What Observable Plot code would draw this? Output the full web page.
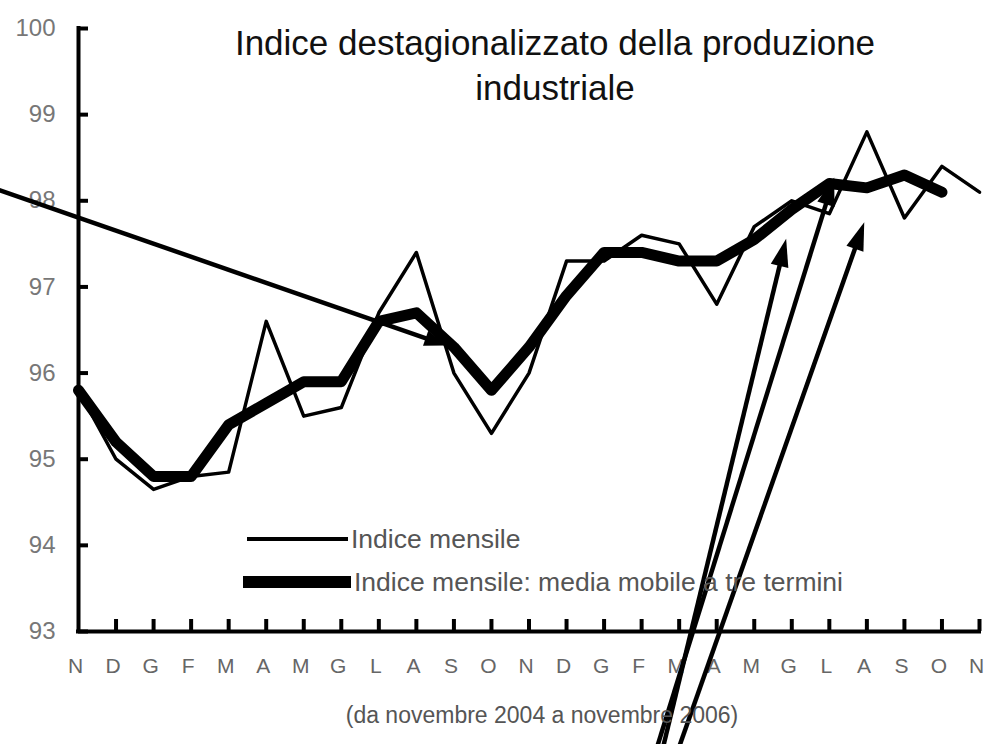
<!DOCTYPE html>
<html>
<head>
<meta charset="utf-8">
<script src="https://cdn.jsdelivr.net/npm/d3@7"></script>
<script src="https://cdn.jsdelivr.net/npm/@observablehq/plot@0.6"></script>
<style>
  body { margin: 0; background: #fff; }
  #wrap { position: relative; width: 984px; height: 744px; overflow: hidden; font-family: "Liberation Sans", Arial, sans-serif; }
  #wrap svg { position: absolute; left: 0; top: 0; }
  #title { position: absolute; left: 205px; width: 700px; top: 20px; text-align: center; font-size: 35px; line-height: 45px; color: #111; }
  .leg { position: absolute; left: 243px; height: 30px; display: flex; align-items: center; font-size: 26.5px; color: #555; white-space: nowrap; }
  .sw { display: inline-block; width: 105px; background: #000; margin-right: 3px; }
  #caption { position: absolute; left: 242px; width: 600px; top: 702px; text-align: center; font-size: 23px; color: #555; white-space: nowrap; }
</style>
</head>
<body>
<div id="wrap">
  <div id="title">Indice destagionalizzato della produzione<br>industriale</div>
  <div class="leg" style="top:524px;"><span class="sw" style="height:4px;margin-left:4px;width:101px;"></span>Indice mensile</div>
  <div class="leg" style="top:567px;"><span class="sw" style="height:12px;width:108px;"></span>Indice mensile: media mobile a tre termini</div>
  <div id="caption">(da novembre 2004 a novembre 2006)</div>
</div>
<script>
// Month labels, November 2004 -> November 2006
const months = ["N","D","G","F","M","A","M","G","L","A","S","O","N","D","G","F","M","A","M","G","L","A","S","O","N"];
// Indice mensile (thin line)
const indiceMensile = [95.8, 95.0, 94.65, 94.8, 94.85, 96.6, 95.5, 95.6, 96.7, 97.4, 96.0, 95.3, 96.0, 97.3, 97.3, 97.6, 97.5, 96.8, 97.7, 98.0, 97.85, 98.8, 97.8, 98.4, 98.1];
// Media mobile a tre termini (thick line), Nov 2004 -> Oct 2006
const mediaMobile = [95.8, 95.2, 94.8, 94.8, 95.4, 95.65, 95.9, 95.9, 96.6, 96.7, 96.3, 95.8, 96.3, 96.9, 97.4, 97.4, 97.3, 97.3, 97.55, 97.9, 98.2, 98.15, 98.3, 98.1];
// Y tick values
const yTicks = [93, 94, 95, 96, 97, 98, 99, 100];
// Annotation arrows (data coordinates: month index, index value)
const frecceX1 = [-2.21, 15.54, 15.37, 15.95];
const frecceY1 = [98.14, 91.6, 91.6, 91.6];
const frecceX2 = [9.80, 18.85, 20.13, 20.93];
const frecceY2 = [96.32, 97.56, 98.27, 97.75];
const frecceHead = [22, 28, 28, 28];
const frecceWidth = [16, 18, 18, 18];

const ff = '"Liberation Sans", Arial, sans-serif';
const base = {
  width: 984, height: 744,
  marginLeft: 78, marginRight: 5, marginTop: 28, marginBottom: 113,
  x: {domain: [0, 24]},
  y: {domain: [93, 100]}
};

// First pass to obtain the scales (for arrowhead orientation)
const p0 = Plot.plot({...base, marks: [Plot.ruleY([93])]});
const sx = p0.scale("x"), sy = p0.scale("y");

const arrows = frecceX1.map((x1, k) => {
  const px1 = sx.apply(x1), py1 = sy.apply(frecceY1[k]);
  const px2 = sx.apply(frecceX2[k]), py2 = sy.apply(frecceY2[k]);
  const len = Math.hypot(px2 - px1, py2 - py1);
  const ux = (px2 - px1) / len, uy = (py2 - py1) / len;
  const L = frecceHead[k], W = frecceWidth[k];
  return {
    x1, y1: frecceY1[k], x2: frecceX2[k], y2: frecceY2[k],
    xe: sx.invert(px2 - ux * L * 0.6), ye: sy.invert(py2 - uy * L * 0.6),
    ux, uy, L, W
  };
});

function headSymbol(ux, uy, L, W) {
  return {
    draw(ctx) {
      const nx = -uy, ny = ux;
      ctx.moveTo(0, 0);
      ctx.lineTo(-L * ux + nx * W / 2, -L * uy + ny * W / 2);
      ctx.lineTo(-L * ux - nx * W / 2, -L * uy - ny * W / 2);
      ctx.closePath();
    }
  };
}

const plot = Plot.plot({
  ...base,
  style: {background: "transparent"},
  marks: [
    Plot.ruleX([0], {strokeWidth: 4, stroke: "black", strokeLinecap: "square"}),
    Plot.ruleY([93], {strokeWidth: 4, stroke: "black", strokeLinecap: "square"}),
    Plot.axisY(yTicks, {tickSize: -10, tickPadding: 33, strokeWidth: 4, stroke: "black", fill: "#777", fontSize: 24, fontFamily: ff, label: null, tickFormat: d => String(d)}),
    Plot.axisX(d3.range(1, 25), {tickSize: -12, strokeWidth: 4, stroke: "black", fill: "none", label: null}),
    Plot.axisX(d3.range(0, 25), {tickSize: 0, tickPadding: 27, dx: -3, fill: "#666", fontSize: 21, fontFamily: ff, label: null, tickFormat: i => months[i]}),
    Plot.line(indiceMensile, {x: (d, i) => i, y: d => d, stroke: "black", strokeWidth: 3.5}),
    Plot.line(mediaMobile, {x: (d, i) => i, y: d => d, stroke: "black", strokeWidth: 11}),
    Plot.link(arrows, {x1: "x1", y1: "y1", x2: "xe", y2: "ye", stroke: "black", strokeWidth: 4.5}),
    ...arrows.map(a => Plot.dot([a], {x: "x2", y: "y2", r: 3, fill: "black", symbol: headSymbol(a.ux, a.uy, a.L, a.W)}))
  ]
});
document.getElementById("wrap").prepend(plot);
</script>
</body>
</html>
